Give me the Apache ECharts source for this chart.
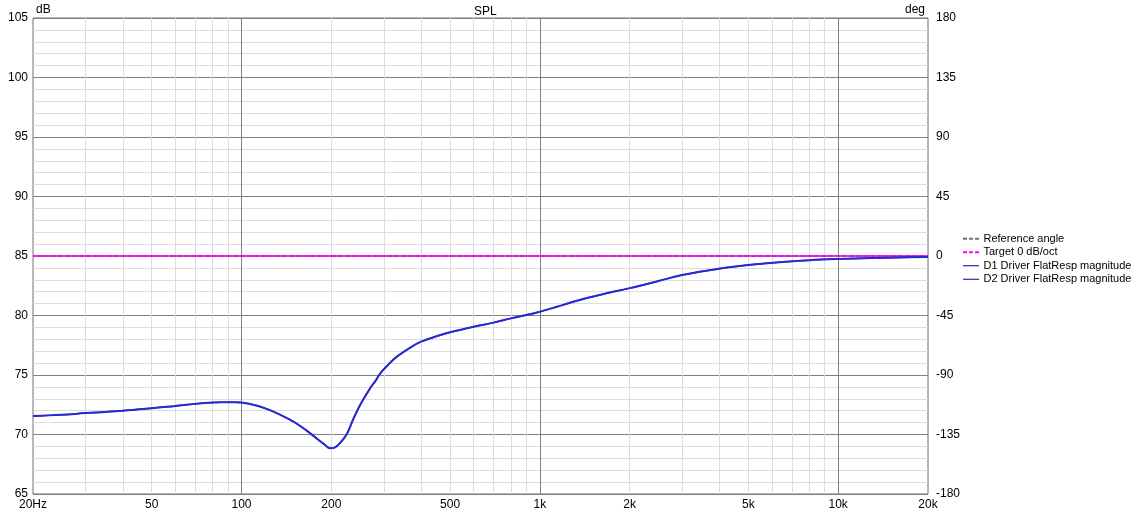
<!DOCTYPE html>
<html>
<head>
<meta charset="utf-8">
<script src="https://cdn.jsdelivr.net/npm/echarts@6/dist/echarts.min.js"></script>
<style>
    html, body { margin: 0; padding: 0; background: #fff; }
    #chart { width: 1143px; height: 513px; }
</style>
</head>
<body>
<div id="chart"></div>
<script>
// frequency points (Hz)
var freqs = [20, 25, 30, 35, 40, 50, 60, 72, 85, 95, 105, 120, 135, 150, 165, 180, 190, 198, 205, 215,
    225, 237, 250, 270, 282, 291, 310, 330, 370, 400, 450, 500, 600, 700, 800, 1000, 1360, 1600, 2000, 2500,
    3000, 4300, 5000, 6500, 8000, 10000, 13000, 16000, 20000];
// D1 / D2 magnitude (dB)
var splValues = [71.55, 71.65, 71.8, 71.9, 72.0, 72.2, 72.4, 72.6, 72.72, 72.72, 72.6, 72.2, 71.65, 71.05, 70.35,
    69.6, 69.15, 68.85, 68.9, 69.35, 70.0, 71.3, 72.5, 73.9, 74.55, 75.1, 75.85, 76.5, 77.35, 77.8, 78.25, 78.59,
    79.06, 79.4, 79.76, 80.32, 81.3, 81.75, 82.3, 82.9, 83.4, 84.05, 84.25, 84.5, 84.65, 84.75, 84.83, 84.88, 84.92];
// target level (dB) and reference angle (deg)
var targetLevel = 85;
var referenceAngle = 0;
// x axis labels / grid
var xLabelValues = [20, 50, 100, 200, 500, 1000, 2000, 5000, 10000, 20000];
var xLabelTexts = ["20Hz", "50", "100", "200", "500", "1k", "2k", "5k", "10k", "20k"];
var xMinorGrid = [30, 40, 50, 60, 70, 80, 90, 200, 300, 400, 500, 600, 700, 800, 900,
    2000, 3000, 4000, 5000, 6000, 7000, 8000, 9000];
var xMajorGrid = [100, 1000, 10000];

var FONT = "Liberation Sans";
// legend sample shapes
var ICON_DASHED = "path://M0,0H4V2H0Z M6,0H10V2H6Z M12,0H16V2H12Z";
var ICON_SOLID = "path://M0,0.5H16V1.5H0Z M0,0H0.01V2H0Z";

function pairs(xs, ys) {
    var out = [];
    for (var i = 0; i < xs.length; i++) {
        out.push([xs[i], ys[i]]);
    }
    return out;
}

var splData = pairs(freqs, splValues);

var option = {
    animation: false,
    backgroundColor: "#fff",
    textStyle: {fontFamily: FONT},
    title: {
        text: "SPL",
        left: 469,
        top: 1,
        textStyle: {fontSize: 12, fontWeight: "normal", color: "#000", fontFamily: FONT}
    },
    legend: {
        orient: "vertical",
        left: 958,
        top: 227,
        itemWidth: 17,
        itemHeight: 2,
        itemGap: 0,
        textStyle: {fontSize: 11, color: "#000", fontFamily: FONT, lineHeight: 13.5, padding: [0, 0, 0, -1]},
        data: [
            {name: "Reference angle", icon: ICON_DASHED},
            {name: "Target 0 dB/oct", icon: ICON_DASHED},
            {name: "D1 Driver FlatResp magnitude", icon: ICON_SOLID},
            {name: "D2 Driver FlatResp magnitude", icon: ICON_SOLID}
        ]
    },
    grid: {
        left: 33,
        top: 18,
        width: 895,
        height: 476,
        show: true,
        borderColor: "#6e6e6e",
        borderWidth: 1,
        containLabel: false
    },
    xAxis: [{
        type: "log",
        logBase: 10,
        min: 20,
        max: 20000,
        axisLine: {show: false},
        axisTick: {show: false, customValues: xMinorGrid},
        axisLabel: {
            show: true,
            customValues: xLabelValues,
            margin: 5,
            fontSize: 12,
            color: "#000",
            fontFamily: FONT,
            formatter: function (v) {
                var i = xLabelValues.indexOf(Math.round(v));
                return i >= 0 ? xLabelTexts[i] : "";
            }
        },
        splitLine: {show: true, lineStyle: {color: "#dcdcdc", width: 1}}
    }, {
        type: "log",
        logBase: 10,
        min: 20,
        max: 20000,
        position: "bottom",
        axisLine: {show: false},
        axisTick: {show: false, customValues: xMajorGrid},
        axisLabel: {show: false},
        splitLine: {show: true, lineStyle: {color: "#808080", width: 1}}
    }],
    yAxis: [{
        type: "value",
        min: 65,
        max: 105,
        interval: 5,
        name: "dB",
        nameLocation: "end",
        nameGap: 2,
        nameTextStyle: {align: "left", fontSize: 12, color: "#000", padding: [0, 0, 0, 3], fontFamily: FONT},
        axisLine: {show: false},
        axisTick: {show: false},
        axisLabel: {margin: 5, fontSize: 12, color: "#000", fontFamily: FONT},
        splitLine: {show: true, lineStyle: {color: "#808080", width: 1}},
        minorTick: {show: false, splitNumber: 5},
        minorSplitLine: {show: true, lineStyle: {color: "#dcdcdc", width: 1}}
    }, {
        type: "value",
        min: -180,
        max: 180,
        interval: 45,
        position: "right",
        name: "deg",
        nameLocation: "end",
        nameGap: 2,
        nameTextStyle: {align: "right", fontSize: 12, color: "#000", padding: [0, 3, 0, 0], fontFamily: FONT},
        axisLine: {show: false},
        axisTick: {show: false},
        axisLabel: {margin: 8, fontSize: 12, color: "#000", fontFamily: FONT},
        splitLine: {show: false}
    }],
    series: [{
        name: "Reference angle",
        type: "line",
        yAxisIndex: 1,
        showSymbol: false,
        symbol: "none",
        itemStyle: {color: "#707070"},
        lineStyle: {color: "#808080", width: 2, type: [4, 3]},
        data: [[20, referenceAngle], [20000, referenceAngle]]
    }, {
        name: "Target 0 dB/oct",
        type: "line",
        showSymbol: false,
        symbol: "none",
        itemStyle: {color: "#ff00ff"},
        lineStyle: {color: "#ff00ff", width: 2, type: [5, 2], dashOffset: 3},
        data: [[20, targetLevel], [20000, targetLevel]]
    }, {
        name: "D1 Driver FlatResp magnitude",
        type: "line",
        smooth: 0.4,
        showSymbol: false,
        symbol: "none",
        itemStyle: {color: "#0000b0"},
        lineStyle: {color: "#2a2ad0", width: 2},
        data: splData
    }, {
        name: "D2 Driver FlatResp magnitude",
        type: "line",
        smooth: 0.4,
        showSymbol: false,
        symbol: "none",
        itemStyle: {color: "#0000b0"},
        lineStyle: {color: "#2a2ad0", width: 1.5},
        data: splData
    }]
};

var chart = echarts.init(document.getElementById("chart"));
chart.setOption(option);
</script>
</body>
</html>
